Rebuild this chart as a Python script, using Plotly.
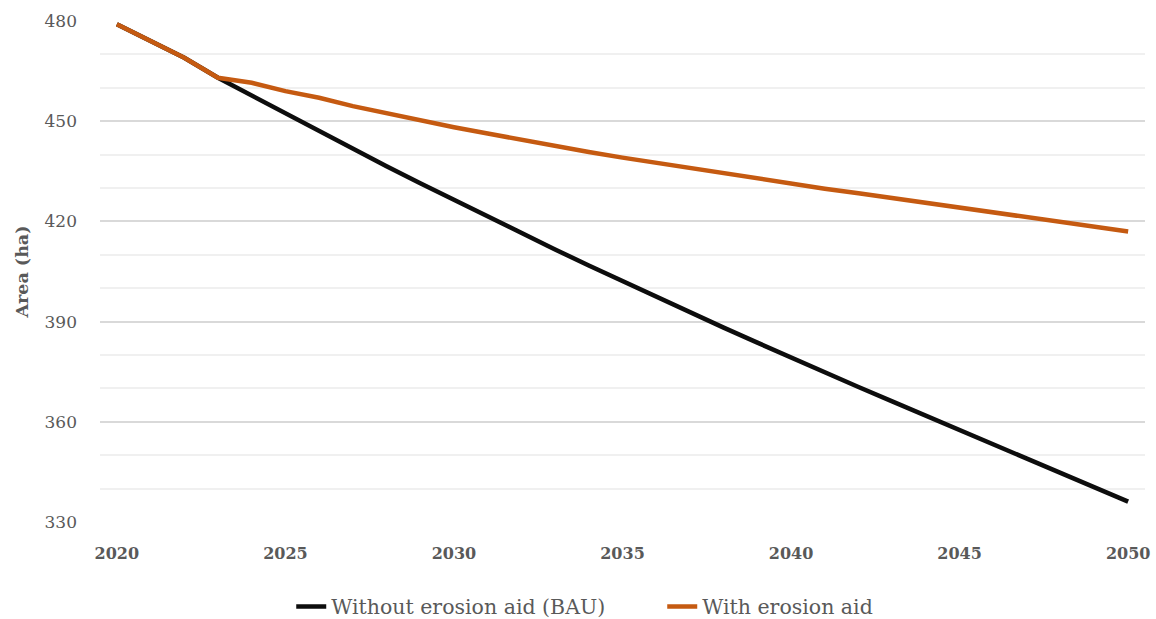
import plotly.graph_objects as go

years = list(range(2020, 2051))

without_aid = [479, 474, 469, 463, 457.7, 452.3, 447, 441.6, 436.5, 431.4,
               426.4, 421.4, 416.5, 411.6, 406.8, 402.1, 397.4, 392.8, 388.2, 383.7,
               379.2, 374.8, 370.4, 366.1, 361.8, 357.6, 353.3, 349.0, 344.7, 340.4,
               336.1]

with_aid = [479, 474, 469, 463, 461.5, 459, 457, 454.5, 452.3, 450.2,
            448.2, 446.3, 444.4, 442.6, 440.8, 439.1, 437.5, 435.9, 434.3, 432.8,
            431.3, 429.8, 428.4, 427, 425.6, 424.2, 422.7, 421.2, 419.8, 418.4,
            417]

x_ticks = [2020, 2025, 2030, 2035, 2040, 2045, 2050]
y_ticks = [330, 360, 390, 420, 450, 480]

FONT = "DejaVu Serif"
GREY = "#595959"

fig = go.Figure()
fig.add_trace(go.Scatter(x=years, y=without_aid, mode="lines",
                         name="Without erosion aid (BAU)",
                         line=dict(color="#0d0d0d", width=4.5)))
fig.add_trace(go.Scatter(x=years, y=with_aid, mode="lines",
                         name="With erosion aid",
                         line=dict(color="#c55a11", width=4.5)))

fig.update_layout(
    width=1156, height=619,
    margin=dict(l=100, r=11, t=21, b=97, autoexpand=False),
    plot_bgcolor="white", paper_bgcolor="white",
    font=dict(family=FONT, color=GREY, size=17),
    showlegend=True,
    legend=dict(orientation="h", x=0.183, xanchor="left",
                yref="container", y=0.02, yanchor="middle",
                entrywidthmode="pixels", entrywidth=326,
                font=dict(family=FONT, size=20.5, color=GREY), tracegroupgap=0),
    xaxis=dict(range=[2019.5, 2050.5], tickvals=x_ticks, showgrid=False,
               zeroline=False, showline=False, ticks="",
               ticklabelstandoff=20,
               tickfont=dict(family=FONT, size=16, color=GREY, weight="bold")),
    yaxis=dict(range=[330, 480], tickvals=y_ticks, showgrid=True,
               gridcolor="#d9d9d9", gridwidth=1.5, zeroline=False, showline=False,
               ticks="", ticklabelstandoff=22,
               tickfont=dict(family=FONT, size=17, color=GREY),
               minor=dict(dtick=10, tick0=330, showgrid=True,
                          gridcolor="#f0f0f0", gridwidth=1.5),
               title=dict(text="Area (ha)", standoff=11,
                          font=dict(family=FONT, size=17.5, color=GREY, weight="bold"))),
)

fig.write_html("out.html")
